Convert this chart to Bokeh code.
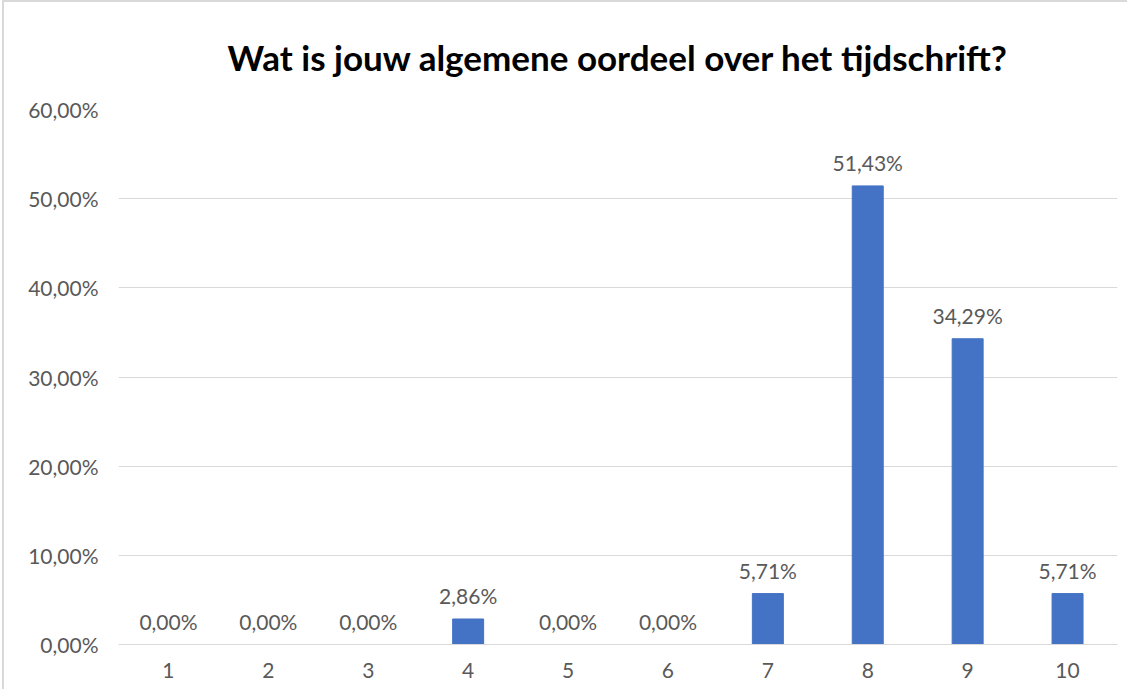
from bokeh.plotting import figure
from bokeh.models import FixedTicker, CustomJSTickFormatter, Range1d, ColumnDataSource
from bokeh.embed import file_html
from bokeh.resources import INLINE

categories = [1, 2, 3, 4, 5, 6, 7, 8, 9, 10]
values = [0.00, 0.00, 0.00, 2.86, 0.00, 0.00, 5.71, 51.43, 34.29, 5.71]
y_ticks = [0, 10, 20, 30, 40, 50, 60]
title_text = "Wat is jouw algemene oordeel over het tijdschrift?"

labels = [("%.2f" % v).replace(".", ",") + "%" for v in values]
src = ColumnDataSource(dict(x=categories, top=values, label=labels))

FONT = "Lato"
GRAY = "#595959"
GRID = "#d9d9d9"

p = figure(width=1125, height=689, output_backend="svg", toolbar_location=None,
           x_range=Range1d(0.5, 10.5), y_range=Range1d(0, 60),
           min_border_left=114, min_border_right=12, min_border_top=104, min_border_bottom=47,
           title=title_text)
p.margin = (0, 0, 0, 2)
p.styles = {"border-top": "2px solid #d9d9d9", "border-left": "2px solid #d9d9d9"}

p.title.align = "center"
p.title.text_font = FONT
p.title.text_font_size = "35px"
p.title.text_font_style = "bold"
p.title.text_color = "#000000"
p.title.standoff = 63

p.outline_line_color = None
p.background_fill_color = "white"
p.border_fill_color = "white"

p.vbar(x="x", top="top", width=0.31, source=src, fill_color="#4472C4", line_color="#4472C4")
p.text(x="x", y="top", text="label", source=src, text_align="center", text_baseline="bottom",
       y_offset=-11, text_font_size="21px", text_color=GRAY, text_font={"value": FONT})

p.xgrid.grid_line_color = None
p.ygrid.grid_line_color = GRID
p.ygrid.grid_line_width = 1

p.xaxis.ticker = FixedTicker(ticks=categories)
p.xaxis.major_tick_line_color = None
p.xaxis.minor_tick_line_color = None
p.xaxis.axis_line_color = GRID
p.xaxis.axis_line_width = 1
p.xaxis.major_label_text_font = FONT
p.xaxis.major_label_text_font_size = "21px"
p.xaxis.major_label_text_color = GRAY
p.xaxis.major_label_standoff = 12

p.yaxis.ticker = FixedTicker(ticks=y_ticks)
p.yaxis.formatter = CustomJSTickFormatter(code="return tick.toFixed(2).replace('.', ',') + '%';")
p.yaxis.major_tick_line_color = None
p.yaxis.minor_tick_line_color = None
p.yaxis.axis_line_color = None
p.yaxis.major_label_text_font = FONT
p.yaxis.major_label_text_font_size = "21px"
p.yaxis.major_label_text_color = GRAY
p.yaxis.major_label_standoff = 14

open("out.html", "w").write(file_html(p, INLINE))
